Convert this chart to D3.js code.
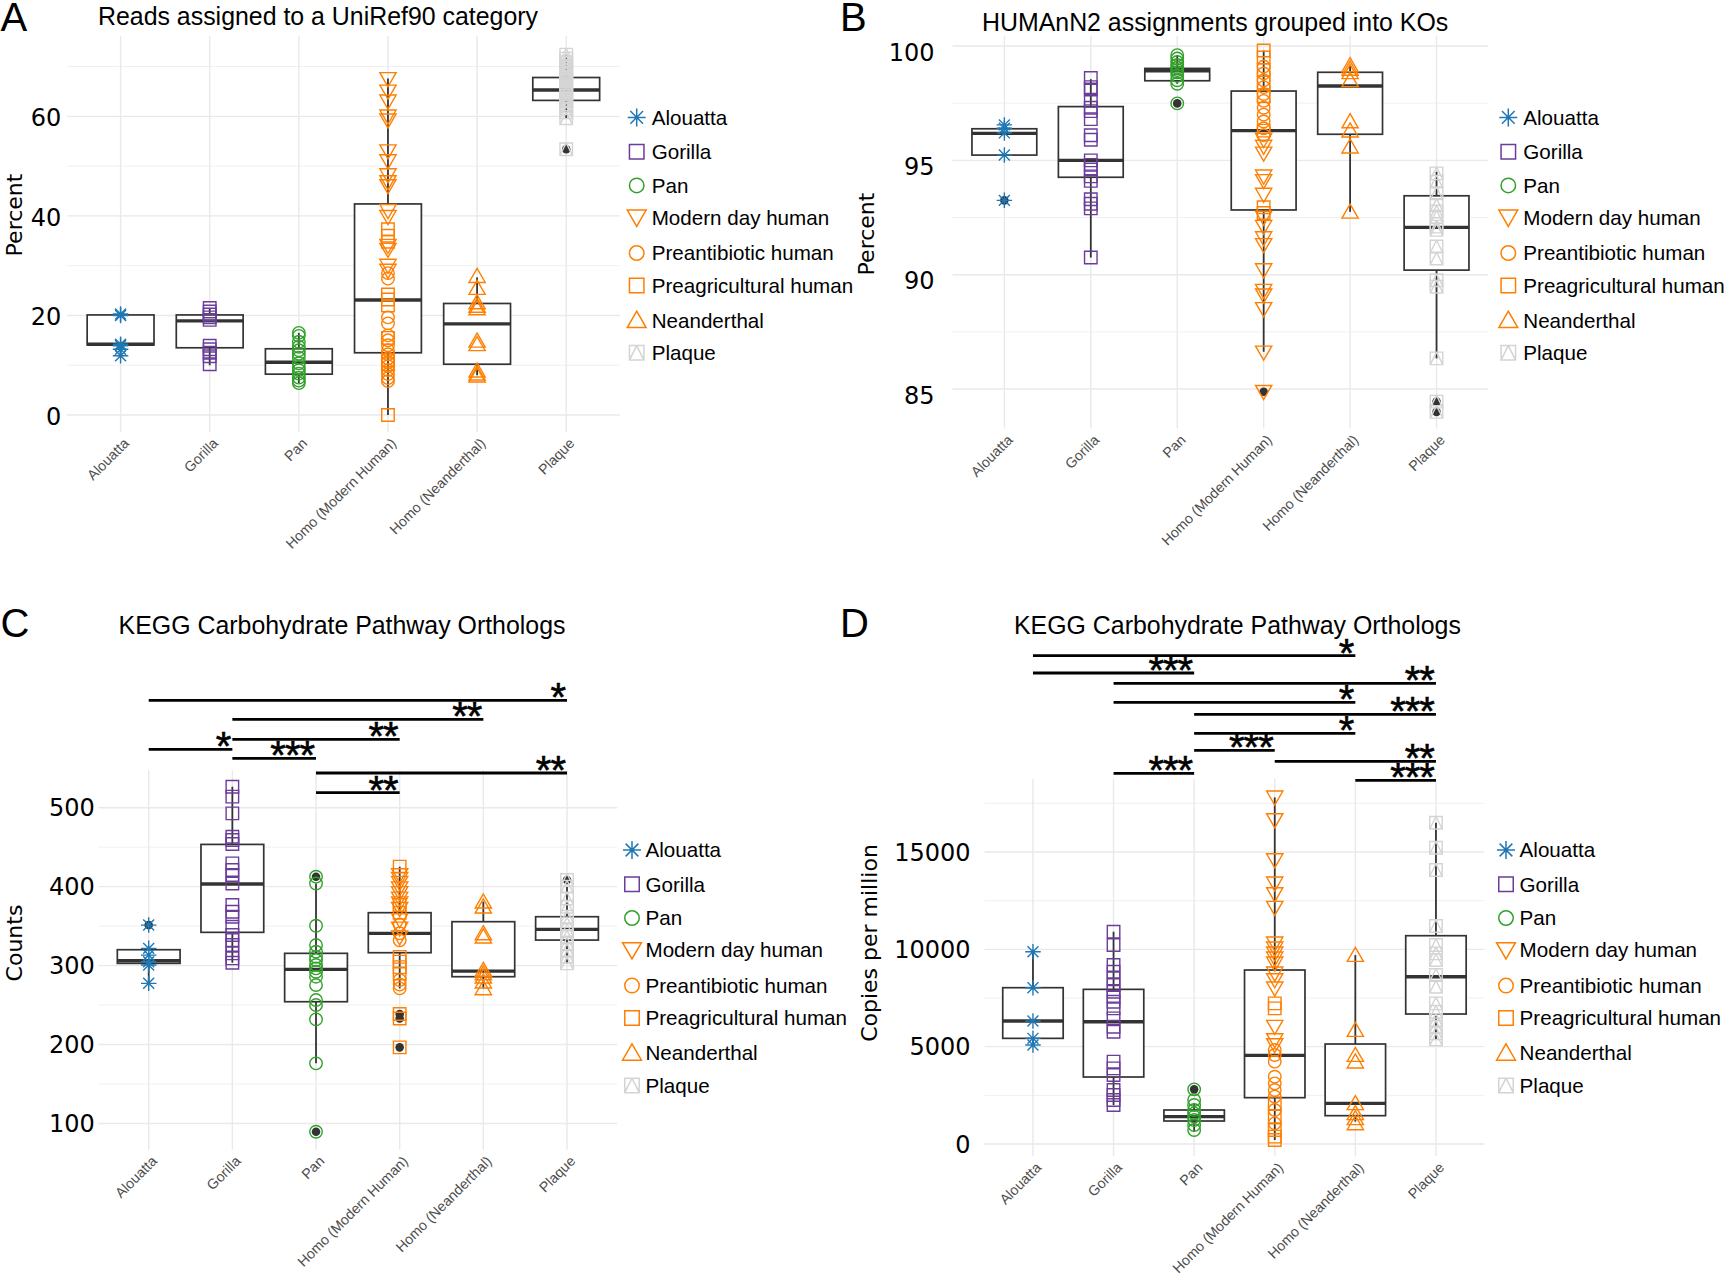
<!DOCTYPE html>
<html><head><meta charset="utf-8">
<script src="https://cdn.jsdelivr.net/npm/d3@7"></script>
<style>body{margin:0;background:#fff} svg{display:block}</style>
</head><body>
<svg id="fig" width="1724" height="1276"></svg>
<script>
// ---------- shared categories / legend groups ----------
const categories = ["Alouatta","Gorilla","Pan","Homo (Modern Human)","Homo (Neanderthal)","Plaque"];
const groups = ["Alouatta","Gorilla","Pan","Modern day human","Preantibiotic human","Preagricultural human","Neanderthal","Plaque"];
const groupColors = ["#1f78b4","#6a3d9a","#33a02c","#ff7f00","#ff7f00","#ff7f00","#ff7f00","#d4d4d4"];
const groupShapes = ["star","square","circle","triDown","circle","square","triUp","sqTri"];
const groupCategory = ["Alouatta","Gorilla","Pan","Homo (Modern Human)","Homo (Modern Human)","Homo (Modern Human)","Homo (Neanderthal)","Plaque"];

// ---------- Panel A: Reads assigned to a UniRef90 category (Percent) ----------
const unirefAlouatta = [20.3, 20.0, 14.2, 13.9, 13.2, 11.9];
const unirefGorilla = [21.5, 20.8, 20.2, 19.6, 19.1, 13.9, 13.2, 12.5, 11.8, 10.2];
const unirefPan = [16.5, 15.9, 14.7, 13.7, 13.0, 12.3, 11.5, 10.4, 9.6, 9.0, 8.3, 7.5, 6.9, 6.4];
const unirefModern = [67.5, 65.0, 63.0, 60.0, 59.2, 53.0, 51.0, 48.2, 46.8, 46.0, 41.0, 39.8, 34.0, 33.2, 30.0, 29.0];
const unirefPreantibiotic = [28.5, 27.4, 19.6, 18.4, 16.0, 15.0, 14.0, 13.0, 12.2, 11.4, 10.6, 9.8, 9.0, 8.2, 7.4, 6.8];
const unirefPreagricultural = [37.3, 36.0, 34.8, 24.2, 23.2, 22.0, 15.5, 11.0, 10.2, 0.0];
const unirefNeanderthal = [27.9, 25.5, 22.6, 21.9, 21.4, 14.9, 14.2, 8.9, 8.3, 7.9];
const unirefPlaque = [72.4, 71.6, 70.9, 70.1, 69.4, 68.7, 68.0, 67.3, 66.6, 65.9, 65.2, 64.5, 63.8, 63.1, 62.4, 61.6, 60.8, 59.6, 53.4];
// box stats per category: [lower whisker, Q1, median, Q3, upper whisker]
const unirefBox = [[11.9,14.07,14.2,20.1,20.3],[10.0,13.5,18.9,20.1,21.4],[6.4,8.2,10.6,13.3,16.5],[0.0,12.5,23.1,42.4,67.6],[8.0,10.2,18.3,22.4,27.6],[59.6,63.2,65.3,67.8,72.3]];
const unirefOutliers = [["Plaque",53.4]];
const unirefTicks = [0,20,40,60];
const unirefMinor = [10,30,50,70];

// ---------- Panel B: HUMAnN2 assignments grouped into KOs (Percent) ----------
const humannAlouatta = [96.55, 96.4, 96.2, 95.23, 93.25];
const humannGorilla = [98.6, 98.2, 98.1, 97.6, 97.3, 97.15, 96.8, 96.1, 95.9, 95.0, 94.8, 94.6, 94.3, 94.1, 93.3, 93.1, 92.9, 90.75];
const humannPan = [99.6, 99.45, 99.3, 99.17, 99.05, 98.95, 98.85, 98.7, 98.5, 98.35, 97.49];
const humannModern = [95.9, 95.6, 95.3, 94.3, 94.1, 93.5, 92.5, 92.1, 91.6, 91.3, 90.2, 89.3, 89.1, 88.5, 86.6, 84.88];
const humannPreantibiotic = [99.1, 98.8, 98.5, 98.2, 97.9, 97.6, 97.3, 97.0, 96.7, 96.4, 96.1];
const humannPreagricultural = [99.8, 99.5, 98.95, 98.4, 97.8, 96.3, 92.95, 92.7];
const humannNeanderthal = [99.15, 99.0, 98.85, 98.5, 96.7, 96.3, 95.6, 92.75];
const humannPlaque = [94.43, 94.07, 93.56, 93.05, 92.76, 92.54, 92.1, 91.96, 91.23, 90.71, 89.76, 89.47, 86.34, 84.45, 84.0];
const humannBox = [[95.23,95.23,96.18,96.38,96.55],[90.75,94.26,95.0,97.35,98.55],[98.35,98.48,98.92,99.02,99.6],[86.63,92.83,96.3,98.03,99.8],[92.75,96.14,98.25,98.85,99.15],[86.34,90.2,92.07,93.45,94.5]];
const humannOutliers = [["Alouatta",93.25],["Pan",97.49],["Homo (Modern Human)",84.88],["Plaque",84.45],["Plaque",84.0]];
const humannTicks = [85,90,95,100];
const humannMinor = [87.5,92.5,97.5];

// ---------- Panel C: KEGG Carbohydrate Pathway Orthologs (Counts) ----------
const countsAlouatta = [351.3, 321.8, 313.3, 304.9, 300.7, 277.5];
const countsGorilla = [526.6, 514, 492.8, 463.3, 459, 454, 429.5, 421, 414.7, 404, 376.7, 368.2, 361.9, 349.2, 338.7, 332.3, 326, 315.5, 309.1, 303.6];
const countsPan = [412.6, 404, 350.5, 326, 317.6, 311.2, 307, 300.7, 296.4, 292.2, 285.9, 275.3, 256.3, 250, 231.8, 176.1, 89.5];
const countsModern = [414.7, 410, 405, 398, 392, 385, 379, 372, 357.7, 347, 336];
const countsPreantibiotic = [352, 341, 332, 281.7, 276, 271.1];
const countsPreagricultural = [425.3, 376.7, 367, 311, 305, 298, 290, 238.6, 233, 196.4];
const countsNeanderthal = [380.9, 374.6, 340.8, 336.6, 294.3, 290.1, 285.9, 279.6, 271.1];
const countsPlaque = [408.4, 400, 385, 374.6, 361.9, 353.5, 345, 336.6, 328, 319.7, 311.2, 302.8];
const countsBox = [[277.5,302.8,306.2,320.1,321.8],[303.6,342.1,403.3,453.5,526.6],[176.1,254.2,295.2,315.5,404],[271.1,316.3,340.8,367,425.3],[271.1,285.9,293,355.6,380.9],[302.8,332.3,345.9,361.9,400]];
const countsOutliers = [["Alouatta",351.3],["Pan",412.6],["Pan",89.5],["Homo (Modern Human)",238.6],["Homo (Modern Human)",233],["Homo (Modern Human)",196.4],["Plaque",408.4]];
const countsTicks = [100,200,300,400,500];
const countsMinor = [150,250,350,450];
// significance: [from, to, label, height in Counts units]
const countsSig = [["Alouatta","Plaque","*",636.1],["Gorilla","Homo (Neanderthal)","**",612.0],["Gorilla","Homo (Modern Human)","**",586.7],["Alouatta","Gorilla","*",574.0],["Gorilla","Pan","***",562.6],["Pan","Plaque","**",544.0],["Pan","Homo (Modern Human)","**",519.0]];

// ---------- Panel D: KEGG Carbohydrate Pathway Orthologs (Copies per million) ----------
const cpmAlouatta = [9878, 8029, 6317, 5427, 5085];
const cpmGorilla = [10905, 10221, 9193, 8851, 8509, 8166, 7824, 7567, 7310, 6968, 6454, 6026, 5769, 4229, 3886, 3544, 2773, 2517, 2260, 2003];
const cpmPan = [2808, 2260, 2003, 1746, 1575, 1404, 1233, 976, 719];
const cpmModern = [17805, 16641, 14586, 13388, 12840, 12138, 10306, 10050, 9793, 9536, 9279, 8766, 8423, 7995, 6026, 5341, 5085];
const cpmPreantibiotic = [4828, 4571, 4229, 3458, 3116, 2773, 2431, 1746, 1061];
const cpmPreagricultural = [7225, 6968, 2089, 1404, 719, 377, 205];
const cpmNeanderthal = [9707, 5855, 4571, 4229, 2089, 1575, 1318, 1061];
const cpmPlaque = [16504, 15220, 14073, 11196, 10221, 9793, 9450, 8680, 8081, 7224, 6796, 6368, 6026, 5683, 5375];
const cpmBox = [[5085,5427,6317,8029,9878],[2003,3441,6283,7944,10905],[633,1181,1404,1746,2089],[205,2380,4554,8937,17805],[1147,1455,2089,5136,9707],[5341,6677,8594,10700,16504]];
const cpmOutliers = [["Pan",2808]];
const cpmTicks = [0,5000,10000,15000];
const cpmMinor = [2500,7500,12500,17500];
const cpmSig = [["Alouatta","Homo (Neanderthal)","*",25084],["Alouatta","Pan","***",24195],["Gorilla","Plaque","**",23666],["Gorilla","Homo (Neanderthal)","*",22690],["Pan","Plaque","***",22073],["Pan","Homo (Neanderthal)","*",21097],["Pan","Homo (Modern Human)","***",20224],["Homo (Modern Human)","Plaque","**",19659],["Gorilla","Pan","***",19042],["Homo (Neanderthal)","Plaque","***",18683]];

// ---------- drawing ----------
const svg = d3.select("#fig");
const AX = "DejaVu Sans, sans-serif";
const TX = "Liberation Sans, Arial, sans-serif";
const legendOffsets = [0, 34.3, 68, 100, 135.6, 168, 202.8, 235.4];

function shapePath(shape, s) {
  const h = s / 2;
  switch (shape) {
    case "square": return `M${-h},${-h}h${s}v${s}h${-s}Z`;
    case "circle": return `M${h},0A${h},${h} 0 1,1 ${-h},0A${h},${h} 0 1,1 ${h},0Z`;
    case "triUp": { const w = s * 1.3, t = w * 0.866; return `M0,${-t*0.55}L${w/2},${t*0.45}L${-w/2},${t*0.45}Z`; }
    case "triDown": { const w = s * 1.3, t = w * 0.866; return `M0,${t*0.55}L${w/2},${-t*0.45}L${-w/2},${-t*0.45}Z`; }
    case "star": { const r = s * 0.62, d = r * 0.707; return `M0,${-r}V${r}M${-r},0H${r}M${-d},${-d}L${d},${d}M${-d},${d}L${d},${-d}`; }
    case "sqTri": return `M${-h},${-h}h${s}v${s}h${-s}ZM0,${-h}L${h},${h}M0,${-h}L${-h},${h}`;
  }
}

function drawPanel(cfg) {
  const x = d3.scalePoint().domain(categories).range([cfg.left, cfg.right]).padding(0.6);
  const y = d3.scaleLinear().domain(cfg.domain).range([cfg.bottom, cfg.top]);
  const g = svg.append("g");
  const bw = x.step() * 0.75;

  g.selectAll(null).data(cfg.minor).join("line")
    .attr("x1", cfg.left).attr("x2", cfg.right).attr("y1", d => y(d)).attr("y2", d => y(d))
    .attr("stroke", "#f0f0f0").attr("stroke-width", 1);
  g.selectAll(null).data(cfg.ticks).join("line")
    .attr("x1", cfg.left).attr("x2", cfg.right).attr("y1", d => y(d)).attr("y2", d => y(d))
    .attr("stroke", "#e9e9e9").attr("stroke-width", 1.4);
  g.selectAll(null).data(categories).join("line")
    .attr("x1", d => x(d)).attr("x2", d => x(d)).attr("y1", cfg.top).attr("y2", cfg.bottom)
    .attr("stroke", "#e9e9e9").attr("stroke-width", 1.4);

  g.selectAll(null).data(cfg.ticks).join("text")
    .attr("x", cfg.tickRight).attr("y", d => y(d) + (cfg.tickShift || 0)).attr("dy", "0.36em")
    .attr("text-anchor", "end").attr("font-family", AX).attr("font-size", 24).attr("fill", "#000")
    .text(d => d);

  // boxplots
  cfg.box.forEach((b, i) => {
    const cx = x(categories[i]);
    g.append("line").attr("x1", cx).attr("x2", cx).attr("y1", y(b[4])).attr("y2", y(b[3]))
      .attr("stroke", "#333").attr("stroke-width", 1.8);
    g.append("line").attr("x1", cx).attr("x2", cx).attr("y1", y(b[1])).attr("y2", y(b[0]))
      .attr("stroke", "#333").attr("stroke-width", 1.8);
    g.append("rect").attr("x", cx - bw / 2).attr("width", bw).attr("y", y(b[3])).attr("height", y(b[1]) - y(b[3]))
      .attr("fill", "#fff").attr("stroke", "#333").attr("stroke-width", 1.7);
    g.append("line").attr("x1", cx - bw / 2).attr("x2", cx + bw / 2).attr("y1", y(b[2])).attr("y2", y(b[2]))
      .attr("stroke", "#333").attr("stroke-width", 3.4);
  });
  g.selectAll(null).data(cfg.outliers).join("circle")
    .attr("cx", d => x(d[0])).attr("cy", d => y(d[1])).attr("r", 4.3).attr("fill", "#333");

  // points
  cfg.points.forEach((vals, gi) => {
    g.selectAll(null).data(vals).join("path")
      .attr("transform", d => `translate(${x(groupCategory[gi])},${y(d)})`)
      .attr("d", shapePath(groupShapes[gi], 12.5))
      .attr("fill", "none").attr("stroke", groupColors[gi]).attr("stroke-width", 1.4);
  });

  // x tick labels
  g.selectAll(null).data(categories).join("text")
    .attr("transform", d => `translate(${x(d) + 2},${cfg.bottom + 5}) rotate(-45)`)
    .attr("text-anchor", "end").attr("dy", "0.72em")
    .attr("font-family", TX).attr("font-size", 14.2).attr("fill", "#4d4d4d")
    .text(d => d);

  // significance bars
  (cfg.sig || []).forEach(s => {
    const yy = y(s[3]);
    g.append("line").attr("x1", x(s[0])).attr("x2", x(s[1])).attr("y1", yy).attr("y2", yy)
      .attr("stroke", "#000").attr("stroke-width", 2.8);
    g.append("text").attr("x", x(s[1]) - 2).attr("y", yy + 11).attr("text-anchor", "end")
      .attr("font-family", TX).attr("font-size", 40).attr("letter-spacing", -1)
      .attr("fill", "#000").attr("stroke", "#000").attr("stroke-width", 0.6)
      .text(s[2]);
  });

  // titles
  g.append("text").attr("x", cfg.titleX).attr("y", cfg.titleY).attr("font-family", TX).attr("font-size", 24.9)
    .attr("fill", "#000").text(cfg.title);
  g.append("text").attr("x", cfg.labelX).attr("y", cfg.labelY).attr("font-family", TX).attr("font-size", 40)
    .attr("fill", "#000").text(cfg.label);
  g.append("text").attr("transform", `translate(${cfg.yTitleX},${cfg.yTitleY}) rotate(-90)`)
    .attr("text-anchor", "middle").attr("font-family", AX).attr("font-size", 22).attr("fill", "#000")
    .text(cfg.yTitle);

  // legend
  groups.forEach((name, gi) => {
    const ly = cfg.legendY + legendOffsets[gi];
    g.append("path").attr("transform", `translate(${cfg.legendSymX},${ly})`)
      .attr("d", shapePath(groupShapes[gi], 14.5))
      .attr("fill", "none").attr("stroke", groupColors[gi]).attr("stroke-width", 1.5);
    g.append("text").attr("x", cfg.legendTextX).attr("y", ly).attr("dy", "0.36em")
      .attr("font-family", TX).attr("font-size", 20.6).attr("fill", "#000").text(name);
  });
}

drawPanel({left:67.1, right:619.7, top:35.7, bottom:432, domain:[-3.42,76.2],
  ticks:unirefTicks, minor:unirefMinor, tickRight:61.3, tickShift:1,
  box:unirefBox, outliers:unirefOutliers,
  points:[unirefAlouatta,unirefGorilla,unirefPan,unirefModern,unirefPreantibiotic,unirefPreagricultural,unirefNeanderthal,unirefPlaque],
  title:"Reads assigned to a UniRef90 category", titleX:98, titleY:25.3, label:"A", labelX:0.5, labelY:31,
  yTitle:"Percent", yTitleX:21.5, yTitleY:215, legendSymX:636.7, legendTextX:651.7, legendY:117.4});

drawPanel({left:952.5, right:1488.4, top:35.7, bottom:428.6, domain:[83.27,100.45],
  ticks:humannTicks, minor:humannMinor, tickRight:934.6, tickShift:6,
  box:humannBox, outliers:humannOutliers,
  points:[humannAlouatta,humannGorilla,humannPan,humannModern,humannPreantibiotic,humannPreagricultural,humannNeanderthal,humannPlaque],
  title:"HUMAnN2 assignments grouped into KOs", titleX:982, titleY:31.4, label:"B", labelX:840, labelY:31,
  yTitle:"Percent", yTitleX:874, yTitleY:234, legendSymX:1508.3, legendTextX:1523.3, legendY:117.4});

drawPanel({left:98.5, right:617.2, top:770.3, bottom:1149.8, domain:[66.6,547.4],
  ticks:countsTicks, minor:countsMinor, tickRight:94.9,
  box:countsBox, outliers:countsOutliers, sig:countsSig,
  points:[countsAlouatta,countsGorilla,countsPan,countsModern,countsPreantibiotic,countsPreagricultural,countsNeanderthal,countsPlaque],
  title:"KEGG Carbohydrate Pathway Orthologs", titleX:118.6, titleY:633.6, label:"C", labelX:0.5, labelY:637,
  yTitle:"Counts", yTitleX:21.5, yTitleY:943, legendSymX:632, legendTextX:645.5, legendY:850});

drawPanel({left:984.6, right:1484.3, top:779, bottom:1156.3, domain:[-632,18750],
  ticks:cpmTicks, minor:cpmMinor, tickRight:970.5,
  box:cpmBox, outliers:cpmOutliers, sig:cpmSig,
  points:[cpmAlouatta,cpmGorilla,cpmPan,cpmModern,cpmPreantibiotic,cpmPreagricultural,cpmNeanderthal,cpmPlaque],
  title:"KEGG Carbohydrate Pathway Orthologs", titleX:1014, titleY:633.6, label:"D", labelX:840, labelY:637,
  yTitle:"Copies per million", yTitleX:876.5, yTitleY:943, legendSymX:1506, legendTextX:1519.6, legendY:850});
</script>
</body></html>
